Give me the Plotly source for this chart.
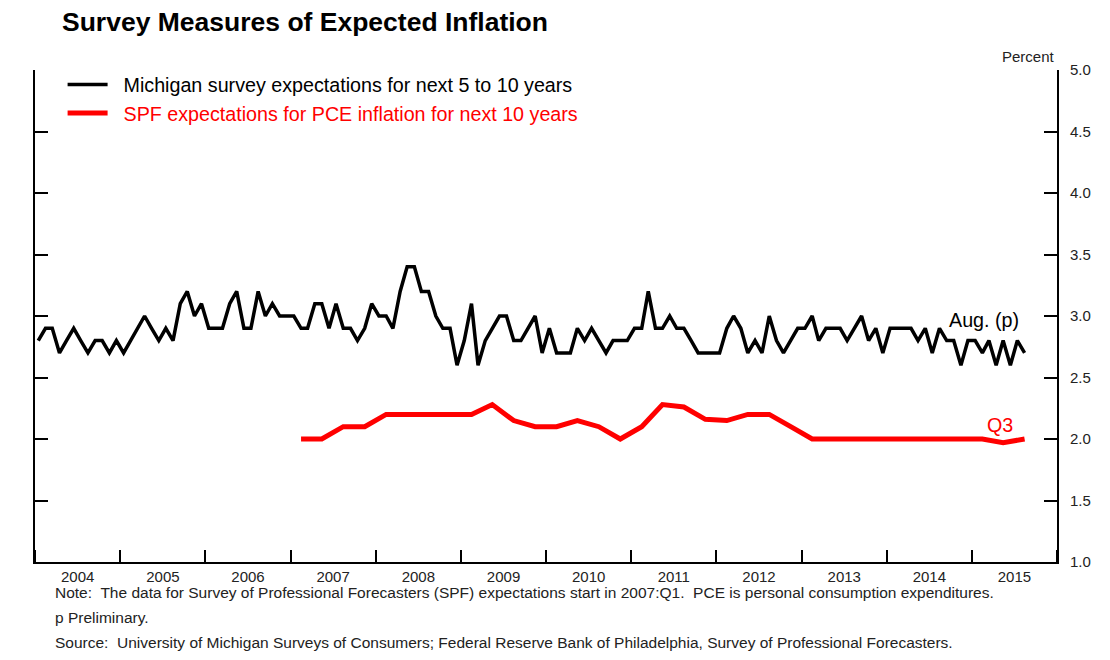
import plotly.graph_objects as go
import pandas as pd

# Michigan survey: expected inflation next 5-10 years, monthly Jan 2004 - Aug 2015
mich_values = [
    2.8, 2.9, 2.9, 2.7, 2.8, 2.9, 2.8, 2.7, 2.8, 2.8, 2.7, 2.8,   # 2004
    2.7, 2.8, 2.9, 3.0, 2.9, 2.8, 2.9, 2.8, 3.1, 3.2, 3.0, 3.1,   # 2005
    2.9, 2.9, 2.9, 3.1, 3.2, 2.9, 2.9, 3.2, 3.0, 3.1, 3.0, 3.0,   # 2006
    3.0, 2.9, 2.9, 3.1, 3.1, 2.9, 3.1, 2.9, 2.9, 2.8, 2.9, 3.1,   # 2007
    3.0, 3.0, 2.9, 3.2, 3.4, 3.4, 3.2, 3.2, 3.0, 2.9, 2.9, 2.6,   # 2008
    2.8, 3.1, 2.6, 2.8, 2.9, 3.0, 3.0, 2.8, 2.8, 2.9, 3.0, 2.7,   # 2009
    2.9, 2.7, 2.7, 2.7, 2.9, 2.8, 2.9, 2.8, 2.7, 2.8, 2.8, 2.8,   # 2010
    2.9, 2.9, 3.2, 2.9, 2.9, 3.0, 2.9, 2.9, 2.8, 2.7, 2.7, 2.7,   # 2011
    2.7, 2.9, 3.0, 2.9, 2.7, 2.8, 2.7, 3.0, 2.8, 2.7, 2.8, 2.9,   # 2012
    2.9, 3.0, 2.8, 2.9, 2.9, 2.9, 2.8, 2.9, 3.0, 2.8, 2.9, 2.7,   # 2013
    2.9, 2.9, 2.9, 2.9, 2.8, 2.9, 2.7, 2.9, 2.8, 2.8, 2.6, 2.8,   # 2014
    2.8, 2.7, 2.8, 2.6, 2.8, 2.6, 2.8, 2.7,                       # 2015 (Jan-Aug)
]
mich_start = "2004-01-01"

# SPF: expected PCE inflation next 10 years, quarterly 2007:Q1 - 2015:Q3
spf_values = [
    2.0, 2.0, 2.1, 2.1,      # 2007
    2.2, 2.2, 2.2, 2.2,      # 2008
    2.2, 2.28, 2.15, 2.1,    # 2009
    2.1, 2.15, 2.1, 2.0,     # 2010
    2.1, 2.28, 2.26, 2.16,   # 2011
    2.15, 2.2, 2.2, 2.1,     # 2012
    2.0, 2.0, 2.0, 2.0,      # 2013
    2.0, 2.0, 2.0, 2.0,      # 2014
    2.0, 1.97, 2.0,          # 2015
]
spf_start = "2007-02-01"

mich_name = "Michigan survey expectations for next 5 to 10 years"
spf_name = "SPF expectations for PCE inflation for next 10 years"
title_text = "Survey Measures of Expected Inflation"
note_lines = [
    "Note:  The data for Survey of Professional Forecasters (SPF) expectations start in 2007:Q1.  PCE is personal consumption expenditures.",
    "p Preliminary.",
    "Source:  University of Michigan Surveys of Consumers; Federal Reserve Bank of Philadelphia, Survey of Professional Forecasters.",
]

mich_dates = pd.date_range(mich_start, periods=len(mich_values), freq="MS") + pd.Timedelta(days=14)
spf_dates = pd.date_range(spf_start, periods=len(spf_values), freq="3MS") + pd.Timedelta(days=14)

FONT = "Liberation Sans, Arial, sans-serif"
GAP = "\u00a0\u00a0"

W, H = 1094, 644

fig = go.Figure()
fig.add_trace(go.Scatter(
    x=mich_dates, y=mich_values, mode="lines", name=GAP + mich_name,
    line=dict(color="black", width=3.5),
))
fig.add_trace(go.Scatter(
    x=spf_dates, y=spf_values, mode="lines",
    name=GAP + '<span style="color:#ff0000">' + spf_name + "</span>",
    line=dict(color="#ff0000", width=5),
))

fig.update_layout(
    width=W, height=H,
    margin=dict(l=27, r=45, t=62, b=90),
    paper_bgcolor="white", plot_bgcolor="white",
    font=dict(family=FONT, color="black", size=15),
    title=dict(
        text="<b>" + title_text + "</b>",
        x=54 / W, xanchor="left", xref="container",
        y=1 - 14 / H, yanchor="middle", yref="container",
        font=dict(size=26.5, family=FONT, color="black"),
    ),
    showlegend=True,
    legend=dict(
        x=0.027, y=1.01, xanchor="left", yanchor="top",
        bgcolor="rgba(0,0,0,0)", font=dict(size=19.7, family=FONT, color="black"),
        itemwidth=40, tracegroupgap=0,
    ),
    xaxis=dict(
        type="date",
        range=["2004-01-01", "2016-01-01"],
        tick0="2004-01-01", dtick="M12",
        tickformat="%Y", ticklabelmode="period",
        ticks="inside", ticklen=12, tickwidth=2, tickcolor="black",
        showline=True, linecolor="black", linewidth=2,
        showgrid=False, zeroline=False,
        tickfont=dict(size=15, color="#222222"),
    ),
    yaxis=dict(
        side="right", range=[1.0, 5.0], dtick=0.5, tick0=1.0,
        tickformat=".1f",
        ticks="inside", ticklen=13, tickwidth=2, tickcolor="black",
        showline=True, linecolor="black", linewidth=2, mirror="ticks",
        showgrid=False, zeroline=False,
        ticklabelstandoff=8,
        tickfont=dict(size=15, color="#222222"),
    ),
)

# Percent unit label
fig.add_annotation(text="Percent", xref="paper", yref="paper", x=1.0, y=1.0,
                   xanchor="right", yanchor="bottom", yshift=3, showarrow=False,
                   font=dict(size=15, color="#222222"))

# End labels
fig.add_annotation(text="Aug. (p)", x=mich_dates[-1], y=mich_values[-1],
                   xanchor="right", yanchor="bottom", xshift=-4, yshift=20,
                   showarrow=False, font=dict(size=19.7, color="black"))
fig.add_annotation(text="Q3", x=spf_dates[-1], y=spf_values[-1],
                   xanchor="right", yanchor="bottom", xshift=-10, yshift=1,
                   showarrow=False, font=dict(size=19.7, color="#ff0000"))

# Footnotes
for i, line in enumerate(note_lines):
    fig.add_annotation(text=line, xref="paper", yref="paper",
                       x=18 / 1022, y=-(30 + 25 * i) / 492,
                       xanchor="left", yanchor="middle", showarrow=False,
                       font=dict(size=15.5, color="#222222"))

fig.write_html("out.html")
